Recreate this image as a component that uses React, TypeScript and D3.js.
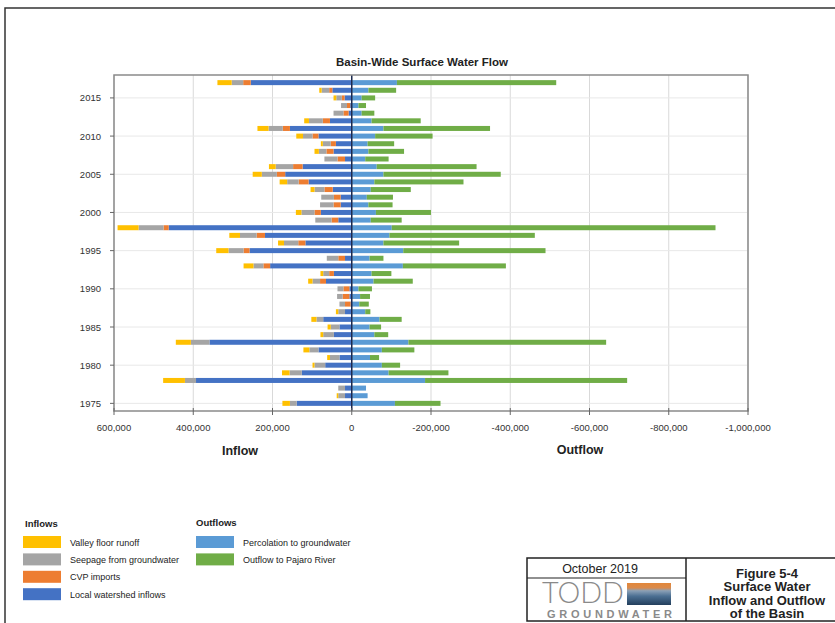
import React from "react";
import * as d3 from "d3";

const years = [1975,1976,1977,1978,1979,1980,1981,1982,1983,1984,1985,1986,1987,1988,1989,1990,1991,1992,1993,1994,1995,1996,1997,1998,1999,2000,2001,2002,2003,2004,2005,2006,2007,2008,2009,2010,2011,2012,2013,2014,2015,2016,2017];

// Inflows (thousands)
const localWatershed = [139,17,17,393,126,67,31,84,359,45,31,72,17,3,6,6,65,45,206,17,258,117,219,462,34,78,28,28,48,109,168,124,17,46,40,84,156,55,8,4,18,49,255];
const cvpImports = [0,0,0,0,0,0,0,0,0,0,0,0,0,14,17,15,15,12,17,17,15,18,21,13,17,16,18,17,21,25,21,24,19,18,13,15,18,18,13,8,7,8,19];
const seepage = [17,17,17,28,31,27,24,23,47,27,22,17,17,14,14,15,19,15,25,29,38,36,42,63,41,33,34,32,25,29,38,44,33,19,20,24,36,35,25,15,14,19,29];
const valleyFloor = [19,4,0,55,19,5,7,15,38,7,8,13,6,0,0,0,11,7,25,0,31,15,27,53,0,14,0,0,10,19,23,17,0,11,5,17,28,12,0,0,7,6,36];

// Outflows (thousands)
const percolation = [109,40,36,185,93,76,46,76,143,57,45,70,34,19,21,17,55,50,129,45,130,80,95,101,48,61,42,38,48,57,80,63,34,42,40,59,80,50,25,17,25,42,114];
const pajaroOutflow = [115,0,0,510,151,46,23,82,499,35,29,56,13,24,25,34,99,50,260,35,359,191,367,817,78,139,61,66,101,225,296,252,59,90,67,145,269,124,32,19,34,70,402];

const xTicks = [600000,400000,200000,0,-200000,-400000,-600000,-800000,-1000000];
const yTicks = [1975,1980,1985,1990,1995,2000,2005,2010,2015];

const inflowSeries = [
  { name: "Local watershed inflows", values: localWatershed, color: "#4472C4" },
  { name: "CVP imports", values: cvpImports, color: "#ED7D31" },
  { name: "Seepage from groundwater", values: seepage, color: "#A5A5A5" },
  { name: "Valley floor runoff", values: valleyFloor, color: "#FFC000" },
];
const outflowSeries = [
  { name: "Percolation to groundwater", values: percolation, color: "#5B9BD5" },
  { name: "Outflow to Pajaro River", values: pajaroOutflow, color: "#70AD47" },
];

const legendInflows = ["Valley floor runoff", "Seepage from groundwater", "CVP imports", "Local watershed inflows"];
const legendInflowColors = ["#FFC000", "#A5A5A5", "#ED7D31", "#4472C4"];
const legendOutflows = ["Percolation to groundwater", "Outflow to Pajaro River"];
const legendOutflowColors = ["#5B9BD5", "#70AD47"];

const FONT = "'Liberation Sans', Arial, sans-serif";

function tickLabel(t: number): string {
  if (t === 0) return "0";
  const s = d3.format(",")(Math.abs(t));
  return t > 0 ? s : "-" + s;
}

export default function App() {
  const W = 835, H = 623;
  const L = 114, R = 748, T = 75, B = 411;
  const x = d3.scaleLinear().domain([600000, -1000000]).range([L, R]);
  const y = d3.scaleLinear().domain([1974, 2018]).range([B, T]);
  const barH = 5;

  const rects: JSX.Element[] = [];
  years.forEach((yr, i) => {
    let cum = 0;
    inflowSeries.forEach((s, si) => {
      const v = s.values[i] * 1000;
      if (v <= 0) return;
      const x0 = x(cum), x1 = x(cum + v);
      rects.push(<rect key={`in-${i}-${si}`} x={x1} y={y(yr) - barH / 2} width={x0 - x1} height={barH} fill={s.color} />);
      cum += v;
    });
    let cumo = 0;
    outflowSeries.forEach((s, si) => {
      const v = s.values[i] * 1000;
      if (v <= 0) return;
      const x0 = x(-cumo), x1 = x(-(cumo + v));
      rects.push(<rect key={`out-${i}-${si}`} x={x0} y={y(yr) - barH / 2} width={x1 - x0} height={barH} fill={s.color} />);
      cumo += v;
    });
  });

  return (
    <svg width={W} height={H} viewBox={`0 0 ${W} ${H}`} style={{ position: "absolute", left: 0, top: 0, background: "#fff" }} fontFamily={FONT}>
      <defs>
        <linearGradient id="logoGrad" x1="0" y1="0" x2="0" y2="1">
          <stop offset="0%" stopColor="#e2873a" />
          <stop offset="22%" stopColor="#d98a4c" />
          <stop offset="35%" stopColor="#8aa0b6" />
          <stop offset="60%" stopColor="#4b6f92" />
          <stop offset="100%" stopColor="#233f5c" />
        </linearGradient>
      </defs>
      <rect x={0} y={0} width={W} height={H} fill="#fff" />
      {/* outer frame */}
      <path d={`M5,${H} V8 H${W}`} fill="none" stroke="#333" strokeWidth={1.5} />

      {/* title */}
      <text x={422} y={66} textAnchor="middle" fontSize={11.5} fontWeight="bold" fill="#222">Basin-Wide Surface Water Flow</text>

      {/* gridlines */}
      {xTicks.map((t) => (
        <line key={`gx${t}`} x1={x(t)} x2={x(t)} y1={T} y2={B} stroke="#d9d9d9" strokeWidth={1} />
      ))}
      {yTicks.map((t) => (
        <line key={`gy${t}`} x1={L} x2={R} y1={y(t)} y2={y(t)} stroke="#e8e8e8" strokeWidth={1} />
      ))}

      {rects}

      {/* zero line */}
      <line x1={x(0)} x2={x(0)} y1={T} y2={B} stroke="#1c2a4f" strokeWidth={1.5} />

      {/* plot border */}
      <rect x={L} y={T} width={R - L} height={B - T} fill="none" stroke="#8a8a8a" strokeWidth={1.5} />

      {/* y axis ticks */}
      {yTicks.map((t) => (
        <g key={`yt${t}`}>
          <line x1={L - 4} x2={L} y1={y(t)} y2={y(t)} stroke="#666" strokeWidth={1} />
          <text x={L - 13} y={y(t) + 3.5} textAnchor="end" fontSize={9.5} fill="#333">{t}</text>
        </g>
      ))}
      {/* x axis ticks */}
      {xTicks.map((t) => (
        <g key={`xt${t}`}>
          <line x1={x(t)} x2={x(t)} y1={B - 3} y2={B + 4} stroke="#666" strokeWidth={1} />
          <text x={x(t)} y={B + 20} textAnchor="middle" fontSize={9.5} fill="#333">{tickLabel(t)}</text>
        </g>
      ))}

      <text x={240} y={455} textAnchor="middle" fontSize={12.5} fontWeight="bold" fill="#222">Inflow</text>
      <text x={580} y={454} textAnchor="middle" fontSize={12.5} fontWeight="bold" fill="#222">Outflow</text>

      {/* legend */}
      <text x={25} y={527} fontSize={9.5} fontWeight="bold" fill="#222">Inflows</text>
      {legendInflows.map((n, i) => (
        <g key={`li${i}`}>
          <rect x={23} y={536 + i * 17.4} width={38} height={12} fill={legendInflowColors[i]} />
          <text x={70} y={545.5 + i * 17.4} fontSize={9} fill="#222">{n}</text>
        </g>
      ))}
      <text x={196} y={526} fontSize={9.5} fontWeight="bold" fill="#222">Outflows</text>
      {legendOutflows.map((n, i) => (
        <g key={`lo${i}`}>
          <rect x={196} y={536 + i * 17.4} width={38} height={12} fill={legendOutflowColors[i]} />
          <text x={243} y={545.5 + i * 17.4} fontSize={9} fill="#222">{n}</text>
        </g>
      ))}

      {/* title block */}
      <rect x={527} y={558} width={330} height={63} fill="none" stroke="#222" strokeWidth={1.5} />
      <line x1={686} x2={686} y1={558} y2={621} stroke="#222" strokeWidth={1.5} />
      <line x1={527} x2={686} y1={578} y2={578} stroke="#222" strokeWidth={1.2} />
      <text x={600} y={573} textAnchor="middle" fontSize={12.5} fill="#222">October 2019</text>
      <text x={542} y={603} fontSize={29} fontFamily="Lato, 'Liberation Sans', sans-serif" fontWeight={300} fill="#8a8a8a" textLength={82} lengthAdjust="spacingAndGlyphs">TODD</text>
      <rect x={627} y={583} width={44} height={22} fill="url(#logoGrad)" />
      <text x={547} y={618} fontSize={11} fontWeight="bold" fill="#8a8a8a" textLength={125} lengthAdjust="spacing">GROUNDWATER</text>
      <text x={767} y={577.5} textAnchor="middle" fontSize={13} fontWeight="bold" fill="#222">Figure 5-4</text>
      <text x={767} y={591} textAnchor="middle" fontSize={13} fontWeight="bold" fill="#222">Surface Water</text>
      <text x={767} y={604.5} textAnchor="middle" fontSize={13} fontWeight="bold" fill="#222">Inflow and Outflow</text>
      <text x={767} y={618} textAnchor="middle" fontSize={13} fontWeight="bold" fill="#222">of the Basin</text>
    </svg>
  );
}
